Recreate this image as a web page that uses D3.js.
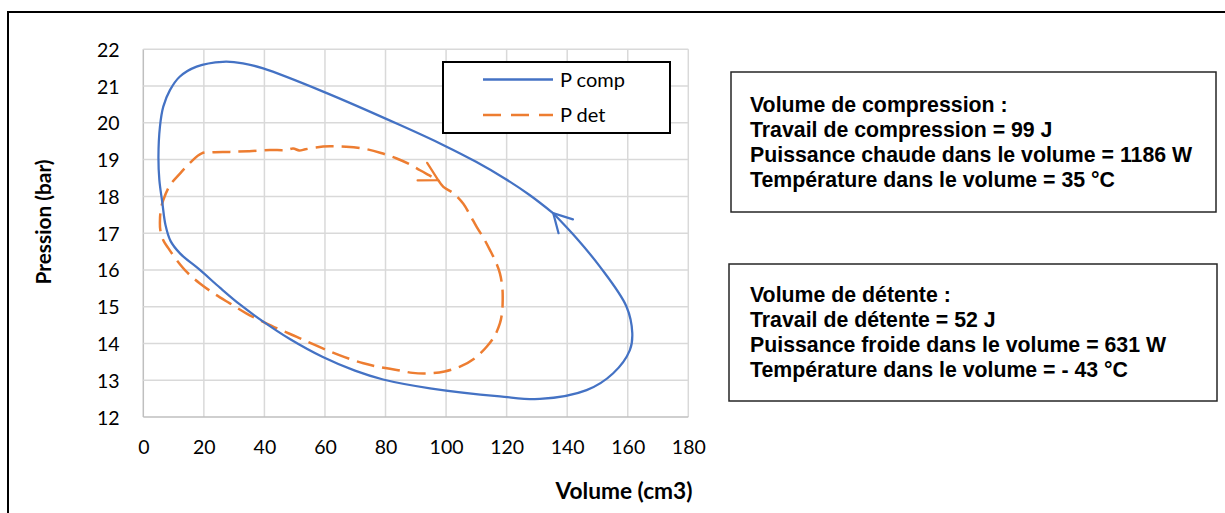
<!DOCTYPE html>
<html>
<head>
<meta charset="utf-8">
<script src="https://cdn.jsdelivr.net/npm/d3@7"></script>
<style>
  html, body { margin: 0; padding: 0; background: #fff; }
  svg { display: block; }
</style>
</head>
<body>
<svg id="chart" width="1225" height="513"></svg>
<script>
// ---------- DATA ----------
const xTicks = [0, 20, 40, 60, 80, 100, 120, 140, 160, 180];
const yTicks = [12, 13, 14, 15, 16, 17, 18, 19, 20, 21, 22];
const seriesNames = ["P comp", "P det"];

// P comp loop (volume cm3, pression bar) - starts and ends at the arrow
const compV = [135.4, 127.7, 119.5, 109.9, 99.0, 84.8, 59.4, 39.6, 32.9, 26.3, 17.6, 12.1, 8.8, 6.6, 5.5, 5.0, 5.3, 6.3, 7.33, 8.98, 12.12, 18.7, 25.4, 31.9, 39.5, 48.4, 59.3, 69.9, 79.2, 94.7, 117.8, 131.0, 146.4, 155.2, 160.7, 161.5, 159.6, 150.8, 143.1, 135.4];
const compP = [17.54, 18.03, 18.48, 18.94, 19.40, 19.94, 20.85, 21.48, 21.62, 21.66, 21.53, 21.26, 20.89, 20.44, 19.90, 19.08, 18.45, 17.82, 17.22, 16.79, 16.45, 16.00, 15.51, 15.06, 14.60, 14.12, 13.63, 13.26, 13.02, 12.78, 12.56, 12.49, 12.73, 13.19, 13.82, 14.28, 15.00, 16.09, 16.86, 17.54];

// P det loop
const detV = [97.4, 99.1, 102.5, 105.7, 108.0, 110.1, 112.5, 114.5, 116.5, 117.8, 118.6, 118.7, 118.5, 117.8, 116.0, 113.4, 109.5, 104.6, 99.5, 94.7, 89.0, 83.7, 78.0, 72.7, 66.5, 60.6, 55.5, 50.7, 45.0, 39.6, 34.0, 28.6, 23.5, 18.7, 14.5, 11.0, 8.2, 6.6, 5.6, 5.5, 5.8, 6.6, 8.8, 12.1, 15.5, 19.3, 23.0, 28.6, 35.0, 41.8, 47.0, 49.5, 51.5, 53.5, 57.0, 61.7, 67.0, 72.7, 78.5, 83.7, 87.8, 91.4, 94.5, 97.4];
const detP = [18.44, 18.26, 18.08, 17.80, 17.48, 17.17, 16.85, 16.54, 16.20, 15.90, 15.50, 15.18, 14.85, 14.55, 14.20, 13.91, 13.60, 13.37, 13.24, 13.19, 13.20, 13.28, 13.36, 13.46, 13.63, 13.82, 14.00, 14.18, 14.38, 14.59, 14.82, 15.09, 15.35, 15.63, 15.93, 16.27, 16.60, 16.81, 17.10, 17.35, 17.65, 17.90, 18.30, 18.62, 18.92, 19.17, 19.20, 19.21, 19.23, 19.26, 19.26, 19.30, 19.25, 19.28, 19.33, 19.36, 19.35, 19.30, 19.18, 19.03, 18.88, 18.71, 18.57, 18.44];

const box1Lines = ["Volume de compression :", "Travail de compression = 99 J", "Puissance chaude dans le volume = 1186 W", "Température dans le volume = 35 °C"];
const box2Lines = ["Volume de détente :", "Travail de détente = 52 J", "Puissance froide dans le volume = 631 W", "Température dans le volume = - 43 °C"];
const xTitle = "Volume (cm3)";
const yTitle = "Pression (bar)";

// ---------- DRAW ----------
const svg = d3.select("#chart");
const BLUE = "#4472C4", ORANGE = "#ED7D31";
const tickFont = "Lato, 'Open Sans', sans-serif";

svg.append("rect").attr("width", 1225).attr("height", 513).attr("fill", "#fff");

// outer frame
svg.append("path").attr("d", "M8,530 V12 H1240")
  .attr("fill", "none").attr("stroke", "#000").attr("stroke-width", 2);

const x = d3.scaleLinear().domain([0, 180]).range([143.3, 688.3]);
const y = d3.scaleLinear().domain([12, 22]).range([417, 49.3]);

// gridlines
const g = svg.append("g");
g.selectAll(".vg").data(xTicks).join("line")
  .attr("x1", d => x(d)).attr("x2", d => x(d))
  .attr("y1", y(12)).attr("y2", y(22))
  .attr("stroke", d => d === 0 ? "#bfbfbf" : "#d9d9d9").attr("stroke-width", 1.5);
g.selectAll(".hg").data(yTicks).join("line")
  .attr("x1", x(0)).attr("x2", x(180))
  .attr("y1", d => y(d)).attr("y2", d => y(d))
  .attr("stroke", d => d === 12 ? "#bfbfbf" : "#d9d9d9").attr("stroke-width", 1.5);

// tick labels via axes
const xAxis = d3.axisBottom(x).tickValues(xTicks).tickSize(0).tickPadding(0).tickFormat(d3.format("d"));
const yAxis = d3.axisLeft(y).tickValues(yTicks).tickSize(0).tickPadding(0).tickFormat(d3.format("d"));
const gx = svg.append("g").attr("transform", "translate(0,454)").call(xAxis);
gx.select(".domain").remove();
gx.selectAll("text").attr("dy", 0).attr("y", 0)
  .style("font-family", tickFont).style("font-size", "19.5px").attr("fill", "#000");
const gy = svg.append("g").attr("transform", "translate(119.5,0)").call(yAxis);
gy.select(".domain").remove();
gy.selectAll("text").attr("x", 0).attr("dy", "0.36em")
  .style("font-family", tickFont).style("font-size", "19.5px").attr("fill", "#000");

// fit helper
function fitText(sel, target, base) {
  sel.style("font-size", base + "px");
  const w = sel.node().getComputedTextLength();
  if (w > 0) sel.style("font-size", (base * target / w).toFixed(2) + "px");
}

// axis titles
const xt = svg.append("text").attr("x", 624).attr("y", 499).attr("text-anchor", "middle")
  .style("font-family", tickFont).style("font-weight", "bold").text(xTitle);
fitText(xt, 137, 20);
const yt = svg.append("text").attr("transform", "translate(43,222) rotate(-90)")
  .attr("text-anchor", "middle").attr("dy", "0.36em")
  .style("font-family", tickFont).style("font-weight", "bold").text(yTitle);
fitText(yt, 125, 20);

// arrow markers
const defs = svg.append("defs");
function marker(id, color) {
  defs.append("marker").attr("id", id)
    .attr("markerUnits", "userSpaceOnUse")
    .attr("viewBox", "-22 -12 24 24")
    .attr("refX", 0).attr("refY", 0)
    .attr("markerWidth", 24).attr("markerHeight", 24)
    .attr("orient", "auto")
    .append("path").attr("d", "M-18,-10 L0,0 L-18,10")
    .attr("fill", "none").attr("stroke", color).attr("stroke-width", 2.25)
    .attr("stroke-linecap", "round").attr("stroke-linejoin", "miter");
}
marker("arrBlue", BLUE);
marker("arrOrange", ORANGE);

const line = d3.line().x(d => x(d[0])).y(d => y(d[1])).curve(d3.curveCatmullRom.alpha(0.5));
const compData = compV.map((v, i) => [v, compP[i]]);
const detData = detV.map((v, i) => [v, detP[i]]);

svg.append("path").datum(detData).attr("d", line)
  .attr("fill", "none").attr("stroke", ORANGE).attr("stroke-width", 2.5)
  .attr("stroke-dasharray", "18,8").attr("marker-end", "url(#arrOrange)");
svg.append("path").datum(compData).attr("d", line)
  .attr("fill", "none").attr("stroke", BLUE).attr("stroke-width", 2.25)
  .attr("marker-end", "url(#arrBlue)");

// legend
const leg = svg.append("g");
leg.append("rect").attr("x", 443).attr("y", 62).attr("width", 227).attr("height", 71)
  .attr("fill", "#fff").attr("stroke", "#000").attr("stroke-width", 2);
const legItems = [
  { name: seriesNames[0], color: BLUE, dash: null, y: 79.5 },
  { name: seriesNames[1], color: ORANGE, dash: "18,10", y: 115 }
];
legItems.forEach(it => {
  leg.append("line").attr("x1", 483).attr("x2", 553).attr("y1", it.y).attr("y2", it.y)
    .attr("stroke", it.color).attr("stroke-width", 2.5)
    .attr("stroke-dasharray", it.dash);
  leg.append("text").attr("x", 560).attr("y", it.y).attr("dy", "0.36em")
    .style("font-family", tickFont).style("font-size", "20px").attr("fill", "#000").text(it.name);
});

// text boxes
function textBox(x0, y0, w, h, lines, firstBaseline) {
  const gb = svg.append("g");
  gb.append("rect").attr("x", x0).attr("y", y0).attr("width", w).attr("height", h)
    .attr("fill", "#fff").attr("stroke", "#262626").attr("stroke-width", 1.5);
  gb.selectAll("text").data(lines).join("text")
    .attr("x", 750).attr("y", (d, i) => firstBaseline + i * 25)
    .style("font-family", "'Liberation Sans', Arial, sans-serif")
    .style("font-weight", "bold").style("font-size", "21.3px").attr("fill", "#000")
    .text(d => d);
}
textBox(731, 72, 485, 140, box1Lines, 112);
textBox(729, 264, 488, 137, box2Lines, 302);
</script>
</body>
</html>
